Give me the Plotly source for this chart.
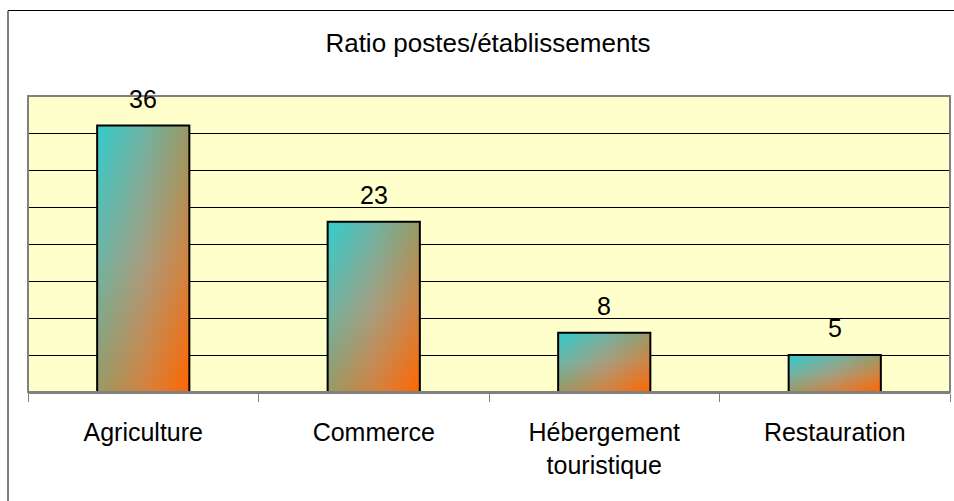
import plotly.graph_objects as go

# ---- data ----
categories = ["Agriculture", "Commerce", "Hébergement<br>touristique", "Restauration"]
values = [36, 23, 8, 5]
value_labels = ["36", "23", "8", "5"]
title_text = "Ratio postes/établissements"
y_max = 40
y_step = 5

# ---- style ----
CYAN = "rgb(51,204,204)"
MID = "rgb(166,158,128)"
ORANGE = "rgb(255,102,0)"
CYAN_HALF = "rgba(51,204,204,0.5)"
MID_HALF = "rgba(166,158,128,0.5)"
ORANGE_HALF = "rgba(255,102,0,0.5)"
BAR_W = 0.4
FONT = "Liberation Sans, Arial, sans-serif"
W, H = 954, 501
ML, MR, MT, MB = 28, 4, 96, 109

fig = go.Figure()

for i, v in enumerate(values):
    xs = [i - BAR_W / 2, i + BAR_W / 2, i + BAR_W / 2, i - BAR_W / 2, i - BAR_W / 2]
    ys = [0, 0, v, v, 0]
    # horizontal gradient layer
    fig.add_trace(go.Scatter(
        x=xs, y=ys, mode="none", fill="toself",
        fillgradient=dict(type="horizontal",
                          colorscale=[[0, CYAN], [0.5, MID], [1, ORANGE]]),
        hoverinfo="skip", showlegend=False))
    # vertical half-transparent layer -> diagonal blend, plus outline
    fig.add_trace(go.Scatter(
        x=xs, y=ys, mode="lines", fill="toself",
        line=dict(color="black", width=2),
        fillgradient=dict(type="vertical",
                          colorscale=[[0, ORANGE_HALF], [0.5, MID_HALF], [1, CYAN_HALF]]),
        hoverinfo="skip", showlegend=False))
    fig.add_annotation(x=i, y=v, text=value_labels[i], showarrow=False,
                       yanchor="bottom", yshift=11,
                       font=dict(family=FONT, size=25, color="black"))

plot_w = W - ML - MR
plot_h = H - MT - MB

# outer frame (black)
fig.add_shape(type="rect", xref="paper", yref="paper",
              x0=(8 - ML) / plot_w, x1=1.1,
              y0=-0.6, y1=1 + (MT - 10.5) / plot_h,
              line=dict(color="black", width=1), layer="below")
# plot area border (gray)
fig.add_shape(type="rect", xref="paper", yref="paper", x0=0, x1=1, y0=0, y1=1,
              line=dict(color="#808080", width=2), layer="above")

fig.update_layout(
    width=W, height=H,
    margin=dict(l=ML, r=MR, t=MT, b=MB),
    paper_bgcolor="white",
    plot_bgcolor="#FFFFCC",
    showlegend=False,
    title=dict(text=title_text, x=488 / W, xanchor="center", xref="container",
               y=1 - 43 / H, yanchor="middle", yref="container",
               font=dict(family=FONT, size=26, color="black")),
    font=dict(family=FONT, color="black"),
    xaxis=dict(
        range=[-0.5, len(categories) - 0.5],
        tickmode="array",
        tickvals=list(range(len(categories))),
        ticktext=categories,
        ticks="outside", ticklen=17, tickcolor="rgba(0,0,0,0)",
        tickfont=dict(family=FONT, size=25, color="black"),
        showgrid=False, zeroline=False,
        showline=True, linecolor="#808080", linewidth=2,
        minor=dict(tickmode="array",
                   tickvals=[k - 0.5 for k in range(len(categories) + 1)],
                   ticks="outside", ticklen=8, tickcolor="#808080", tickwidth=1,
                   showgrid=False),
        fixedrange=True,
    ),
    yaxis=dict(
        range=[0, y_max], dtick=y_step, tick0=0,
        showticklabels=False, ticks="",
        showgrid=True, gridcolor="black", gridwidth=1,
        zeroline=False, showline=False,
        fixedrange=True,
    ),
)

fig.write_html("out.html", config={"displayModeBar": False},
               post_script="document.body.style.margin='0';document.body.style.overflow='hidden';")
